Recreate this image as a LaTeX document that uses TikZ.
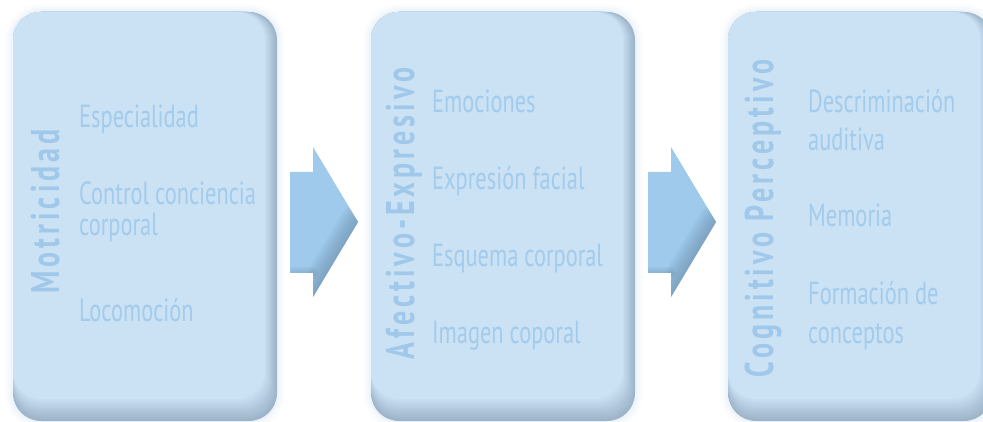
\documentclass[tikz,border=0pt]{standalone}
\usepackage{fontspec}
\setmainfont{PT Sans}[FakeStretch=0.7]
\newfontfamily\labfont{PT Sans}[FakeStretch=0.7,LetterSpace=10]
\definecolor{boxfill}{HTML}{CBE1F4}
\definecolor{boxdark}{HTML}{9DB4C9}
\definecolor{boxglow}{HTML}{D8E8F6}
\definecolor{txtc}{HTML}{A2CBEC}
\definecolor{labc}{HTML}{9FC8EA}
\definecolor{arrowc}{HTML}{9FCAEC}
\definecolor{arrowd}{HTML}{6C8FAB}
\tikzset{
  item/.style={anchor=base west, text=txtc, inner sep=0pt, align=left,
    font=\fontsize{32}{31}\selectfont},
  item3/.style={item, font=\fontsize{32}{38.5}\selectfont},
  lab/.style={anchor=base, rotate=90, text=labc, inner sep=0pt,
    font=\labfont\bfseries\fontsize{40}{44}\selectfont},
  rbox/.style={rounded corners=28pt},
  blockarrow/.style={fill=arrowc},
  innershade/.style={draw=arrowd, line cap=round, opacity=0.085}
}
\newcommand\panelbox[5]{% name, left, top, right, bottom
  \foreach \w/\o in {16/0.10, 10/0.15, 5/0.22}
    \draw[boxglow, line width=\w pt, opacity=\o, rbox] (#2,#3) rectangle (#4,#5);
  \fill[boxdark, rbox] (#2,#3) rectangle (#4,#5);
  \foreach \i in {1,...,10}{
    \pgfmathtruncatemacro\p{10*\i}
    \fill[boxfill!\p!boxdark, rbox] (#2,#3) rectangle ({#4-1.2*\i},{#5-2.2*\i});
  }
  \coordinate (#1) at ({(#2+#4)/2},{(#3+#5)/2});
}
\newcommand\blockarr[2]{% name, x offset
  \begin{scope}[xshift=#2pt]
    \path[blockarrow] (290,172) -- (313,172) -- (313,147) -- (358,222)
      -- (313,297) -- (313,273) -- (290,273) -- cycle;
    \begin{scope}
      \clip (290,172) -- (313,172) -- (313,147) -- (358,222)
        -- (313,297) -- (313,273) -- (290,273) -- cycle;
      \foreach \w in {4,8,...,36}
        \draw[innershade, line width=\w pt] (358,222) -- (313,297);
      \foreach \w in {3,6,...,12}
        \draw[innershade, line width=\w pt] (292,273) -- (313,273);
    \end{scope}
    \coordinate (#1) at (323,222);
  \end{scope}
}
\begin{document}
\begin{tikzpicture}[x=1pt,y=-1pt]
\useasboundingbox[fill=white] (0,0) rectangle (983,422);
\begin{scope}
\clip (0,0) rectangle (983,422);
\panelbox{box1}{13}{12}{277}{421}
\panelbox{box2}{371}{12}{635}{421}
\panelbox{box3}{728}{12}{992}{421}
\end{scope}
\blockarr{arr1}{0}
\blockarr{arr2}{358}

\node[lab] (l1) at (59,211.5) {Motricidad};
\node[item] (t11) at (79,128) {Especialidad};
\node[item] (t12) at (79,236) {Control conciencia\\corporal};
\node[item] (t13) at (79,321) {Locomoción};

\node[lab] (l2) at (414,213.5) {Afectivo-Expresivo};
\node[item] (t21) at (432,113) {Emociones};
\node[item] (t22) at (432,190) {Expresión facial};
\node[item] (t23) at (432,267) {Esquema corporal};
\node[item] (t24) at (432,343) {Imagen coporal};

\node[lab] (l3) at (773,218.5) {Cognitivo Perceptivo};
\node[item3] (t31) at (808,151) {Descriminación\\auditiva};
\node[item] (t32) at (808,227) {Memoria};
\node[item3] (t33) at (808,343) {Formación de\\conceptos};
\end{tikzpicture}
\end{document}
